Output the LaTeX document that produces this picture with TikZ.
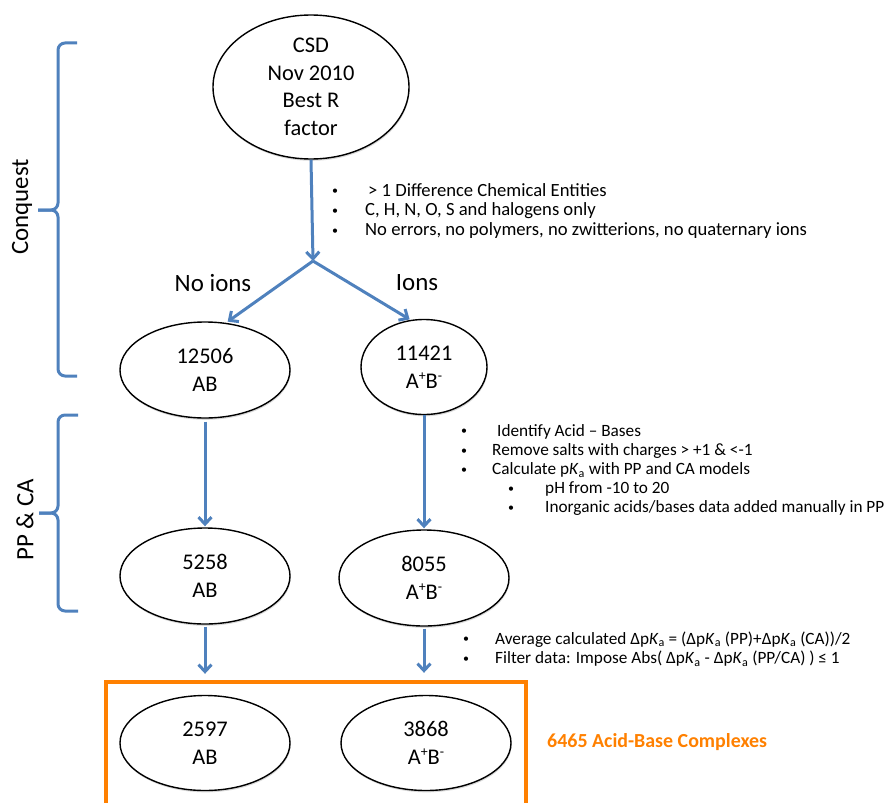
\documentclass[tikz,border=0pt]{standalone}
\usepackage{fontspec}
\setmainfont{Carlito}
\usetikzlibrary{arrows.meta,shapes.geometric,shadows}
\definecolor{brblue}{RGB}{79,129,189}
\definecolor{brorange}{RGB}{255,128,0}
\newcommand{\bdot}{\raisebox{1.2bp}{\fontsize{12}{12}\selectfont •}}
\newcommand{\ionpair}{A\raisebox{0.36em}{\fontsize{14}{14}\selectfont +}B\raisebox{0.36em}{\fontsize{14}{14}\selectfont -}}
\tikzset{
  ell/.style={ellipse, draw=black, line width=1.4bp, fill=white, inner sep=0pt, align=center,
    font=\fontsize{22.5}{27.7}\selectfont,
    drop shadow={shadow xshift=0.6bp,shadow yshift=-1.8bp,opacity=0.3}},
  flow/.style={draw=brblue, line width=3bp, -{Straight Barb[length=7bp,width=13bp]}},
  brace/.style={draw=brblue, line width=3bp, rounded corners=7bp},
  lbl/.style={font=\fontsize{25}{30}\selectfont, inner sep=0pt},
  bul/.style={anchor=base west, inner sep=0pt, align=left},
  resbox/.style={draw=brorange, line width=4bp},
}
\begin{document}
\begin{tikzpicture}[x=1bp,y=-1bp]
\useasboundingbox (0,0) rectangle (887,803);

% result box
\draw[resbox] (106,682) rectangle (526,840);

% braces
\draw[brace] (77,43) -- (58,43) -- (58,210) -- (38,210);
\draw[brace] (38,210) -- (58,210) -- (58,376) -- (77,376);
\draw[brace] (78,415) -- (58,415) -- (58,513) -- (39,513);
\draw[brace] (39,513) -- (58,513) -- (58,611) -- (78,611);
\node[lbl, rotate=90] (cq) at (22,207) {Conquest};
\node[lbl, rotate=90] (ppca) at (25,520) {PP \& CA};

% ellipses
\node[ell, minimum width=196bp, minimum height=144bp] (csd) at (311,87) {CSD\\Nov 2010\\Best R\\factor};
\node[ell, minimum width=170bp, minimum height=96bp] (n12506) at (205,370) {12506\\AB};
\node[ell, minimum width=126bp, minimum height=95bp] (n11421) at (424,367) {11421\\\ionpair};
\node[ell, minimum width=170bp, minimum height=96bp] (n5258) at (205,576) {5258\\AB};
\node[ell, minimum width=170bp, minimum height=96bp] (n8055) at (424,578) {8055\\\ionpair};
\node[ell, minimum width=170bp, minimum height=95bp] (n2597) at (205,743) {2597\\AB};
\node[ell, minimum width=170bp, minimum height=95bp] (n3868) at (426,743) {3868\\\ionpair};

% labels
\node[lbl] (noions) at (213,283) {No ions};
\node[lbl] (ions) at (417,283) {Ions};

% connectors
\coordinate (branch) at (313,261);
\draw[flow] (csd.south) -- (branch);
\draw[flow, shorten >=2bp] (branch) -- (n12506.66);
\draw[flow, shorten >=1bp] (branch) -- (n11421.106);
\draw[flow, shorten <=3bp, shorten >=1bp] (n12506.south) -- (n5258.north);
\draw[flow, shorten >=1bp] (n11421.south) -- (n8055.north);
\draw[flow, shorten <=2bp, shorten >=21bp] (n5258.south) -- (n2597.north);
\draw[flow, shorten <=2bp, shorten >=22bp] (n8055.south) -- (n8055.south |- n3868.north);

% bullet texts
\node[bul, font=\fontsize{18.7}{20}\selectfont] (crit1) at (332,196)
{\begin{tabular}[t]{@{}p{33bp}@{}l@{}}
\bdot&\hspace{3bp}> 1 Difference Chemical Entities\\
\bdot&C, H, N, O, S and halogens only\\
\bdot&No errors, no polymers, no zwitterions, no quaternary ions
\end{tabular}};

\node[bul, font=\fontsize{17.3}{19.3}\selectfont] (crit2) at (461,436)
{\begin{tabular}[t]{@{}p{31bp}@{}l@{}}
\bdot&\hspace{5bp}Identify Acid – Bases\\
\bdot&Remove salts with charges > +1 \& <-1\\
\bdot&Calculate p\textit{K}\textsubscript{a} with PP and CA models\\
\multicolumn{2}{@{}l@{}}{\hspace{47bp}\makebox[37bp][l]{\bdot}pH from -10 to 20}\\
\multicolumn{2}{@{}l@{}}{\hspace{47bp}\makebox[37bp][l]{\bdot}Inorganic acids/bases data added manually in PP}
\end{tabular}};

\node[bul, font=\fontsize{17.3}{20}\selectfont] (crit3) at (463,644)
{\begin{tabular}[t]{@{}p{32bp}@{}l@{}}
\bdot&Average calculated Δp\textit{K}\textsubscript{a} = (Δp\textit{K}\textsubscript{a} (PP)+Δp\textit{K}\textsubscript{a} (CA))/2\\
\bdot&Filter data: Impose Abs( Δp\textit{K}\textsubscript{a} - Δp\textit{K}\textsubscript{a} (PP/CA) ) ≤ 1
\end{tabular}};

\node[anchor=west, inner sep=0pt, text=brorange, font=\bfseries\fontsize{20}{24}\selectfont] (res) at (547,742) {6465 Acid-Base Complexes};
\end{tikzpicture}
\end{document}
